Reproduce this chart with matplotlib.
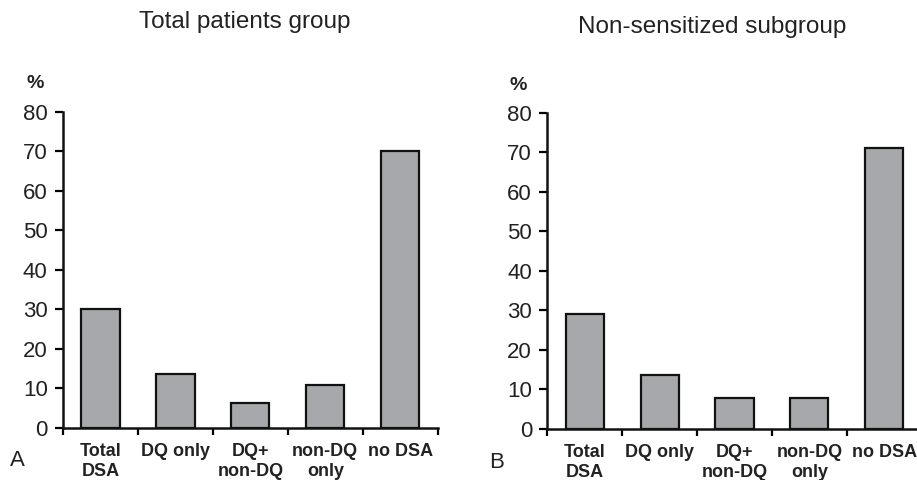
import matplotlib
matplotlib.use("Agg")
import matplotlib.pyplot as plt
import numpy as np

plt.rcParams['font.family'] = ['Liberation Sans', 'DejaVu Sans']

categories = ["Total\nDSA", "DQ only", "DQ+\nnon-DQ", "non-DQ\nonly", "no DSA"]
total_group = [30, 13.5, 6.2, 10.8, 70.1]
nonsens_group = [29, 13.7, 7.8, 7.8, 71]
yticks = [0, 10, 20, 30, 40, 50, 60, 70, 80]

W, H = 917, 480
fig = plt.figure(figsize=(W / 100, H / 100), dpi=100)

def px_axes(x0, x1, ytop, ybot):
    return fig.add_axes([x0 / W, 1 - ybot / H, (x1 - x0) / W, (ybot - ytop) / H])

panels = [
    (px_axes(63, 437.7, 111.7, 427.7), total_group, "Total patients group", 245, 22, "A", 17, 460, 35, 83),
    (px_axes(547.3, 921.7, 112.7, 429), nonsens_group, "Non-sensitized subgroup", 712, 27, "B", 497, 462, 518, 85),
]

for ax, vals, title, tx, ty, letter, lx, ly, px, py in panels:
    x = np.arange(len(categories)) + 0.5
    ax.bar(x, vals, width=0.51, color="#a7a8ab", edgecolor="#111111", linewidth=1.6)
    ax.set_xlim(0, len(categories))
    ax.set_ylim(0, 80)
    ax.set_yticks(yticks)
    ax.set_yticklabels([str(v) for v in yticks], fontsize=16, color="#222222")
    ax.set_xticks(np.arange(len(categories) + 1))
    ax.set_xticklabels([])
    ax.set_xticks(x, minor=True)
    ax.set_xticklabels(categories, minor=True, fontsize=13, fontweight="bold", color="#222222",
                       linespacing=1.2)
    ax.tick_params(axis="x", which="major", length=5, width=1.6, direction="out")
    ax.tick_params(axis="x", which="minor", length=0, pad=11)
    ax.tick_params(axis="y", length=6, width=1.6, direction="out", pad=5)
    for s in ("top", "right"):
        ax.spines[s].set_visible(False)
    for s in ("left", "bottom"):
        ax.spines[s].set_linewidth(1.8)
        ax.spines[s].set_color("#111111")
    fig.text(tx / W, 1 - ty / H, title, ha="center", va="center", fontsize=17.5, color="#222222")
    fig.text(lx / W, 1 - ly / H, letter, ha="center", va="center", fontsize=16, color="#222222")
    fig.text(px / W, 1 - py / H, "%", ha="center", va="center", fontsize=14, fontweight="bold", color="#222222")

fig.savefig("out.png", dpi=100)
